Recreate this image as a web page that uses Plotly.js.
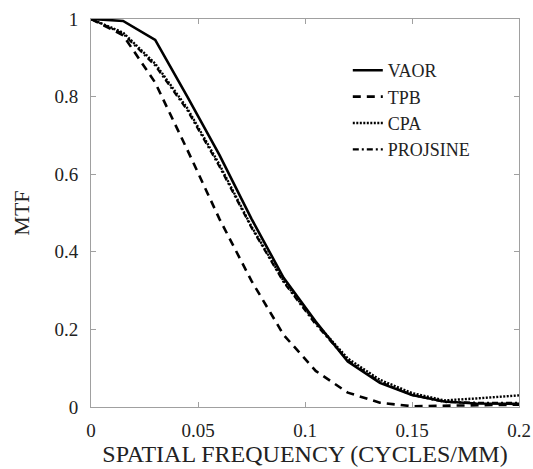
<!DOCTYPE html>
<html>
<head>
<meta charset="utf-8">
<script src="https://cdn.plot.ly/plotly-3.0.1.min.js"></script>
<style>html,body{margin:0;padding:0;background:#fff;}#chart{width:533px;height:469px;}</style>
</head>
<body>
<div id="chart"></div>
<script>
const freq = [0, 0.015, 0.03, 0.045, 0.06, 0.075, 0.09, 0.105, 0.12, 0.135, 0.15, 0.165, 0.18, 0.195, 0.2];
const vaor = [1.0, 0.995, 0.946, 0.80, 0.65, 0.485, 0.333, 0.22, 0.117, 0.062, 0.031, 0.014, 0.009, 0.008, 0.008];
const tpb = [1.0, 0.958, 0.836, 0.663, 0.485, 0.325, 0.186, 0.093, 0.037, 0.011, 0.002, 0.003, 0.005, 0.006, 0.006];
const cpa = [1.0, 0.965, 0.885, 0.77, 0.625, 0.465, 0.325, 0.217, 0.125, 0.07, 0.036, 0.017, 0.022, 0.028, 0.03];
const projsine = [1.0, 0.962, 0.88, 0.765, 0.62, 0.462, 0.322, 0.213, 0.12, 0.065, 0.031, 0.013, 0.011, 0.011, 0.011];
const seriesNames = ['VAOR', 'TPB', 'CPA', 'PROJSINE'];
const xTicks = [0, 0.05, 0.1, 0.15, 0.2];
const xTickText = ['0', '0.05', '0.1', '0.15', '0.2'];
const yTicks = [0, 0.2, 0.4, 0.6, 0.8, 1];
const yTickText = ['0', '0.2', '0.4', '0.6', '0.8', '1'];

const serif = '"Liberation Serif", "Times New Roman", serif';
const dashes = ['solid', '8px,6px', '2px,1.5px', '6px,3px,2px,3px'];
const widths = [2.6, 2.6, 2.4, 2.2];
const allY = [vaor, tpb, cpa, projsine];

const traces = allY.map((ys, i) => ({
  x: freq, y: ys, name: seriesNames[i], type: 'scatter', mode: 'lines',
  line: {color: '#000', width: widths[i], dash: dashes[i]}
}));

const axisCommon = {
  showgrid: false, zeroline: false, showline: true, mirror: 'ticks',
  linecolor: '#a0a0a0', linewidth: 1, ticks: 'inside', ticklen: 5,
  tickcolor: '#a0a0a0', tickfont: {family: serif, size: 19, color: '#222'},
  tickmode: 'array'
};

const layout = {
  width: 533, height: 469,
  margin: {l: 91, r: 14, t: 19, b: 62},
  paper_bgcolor: '#fff', plot_bgcolor: '#fff',
  font: {family: serif, color: '#222'},
  showlegend: true,
  legend: {x: 0.6, y: 0.915, xanchor: 'left', yanchor: 'top', bgcolor: 'rgba(0,0,0,0)',
           font: {family: serif, size: 18, color: '#222'}, tracegroupgap: 0, itemwidth: 30},
  xaxis: Object.assign({}, axisCommon, {
    range: [0, 0.2], tickvals: xTicks, ticktext: xTickText, ticklabelstandoff: 6,
    title: {text: 'SPATIAL FREQUENCY (CYCLES/MM)', font: {family: serif, size: 24, color: '#222'}, standoff: 4}
  }),
  yaxis: Object.assign({}, axisCommon, {
    range: [0, 1], tickvals: yTicks, ticktext: yTickText, ticklabelstandoff: 8,
    title: {text: 'MTF', font: {family: serif, size: 22, color: '#222'}, standoff: 18}
  })
};

Plotly.newPlot('chart', traces, layout, {displayModeBar: false, staticPlot: true});
</script>
</body>
</html>
